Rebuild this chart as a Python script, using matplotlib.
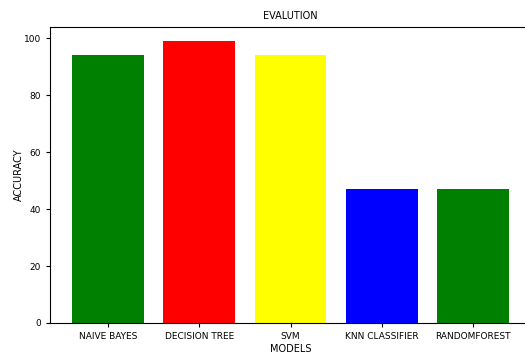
import matplotlib
matplotlib.use("Agg")
import matplotlib.pyplot as plt

models = ["NAIVE BAYES", "DECISION TREE", "SVM", "KNN CLASSIFIER", "RANDOMFOREST"]
accuracy = [94.0, 99.0, 94.0, 47.2, 47.2]
colors = ["green", "red", "yellow", "blue", "green"]

fig = plt.figure(figsize=(5.25, 3.56), dpi=100)
ax = fig.add_axes([50/525, 33/356, 481/525, 296/356])
ax.bar(models, accuracy, color=colors, width=0.79)
ax.set_xlim(-0.64, 4.64)
ax.set_ylim(0, 104)
ax.set_yticks([0, 20, 40, 60, 80, 100])
ax.tick_params(labelsize=6.5, length=3)
ax.set_title("EVALUTION", fontsize=7)
ax.set_xlabel("MODELS", fontsize=7, labelpad=2)
ax.set_ylabel("ACCURACY", fontsize=7, labelpad=0)
fig.savefig("out.png", dpi=100)
